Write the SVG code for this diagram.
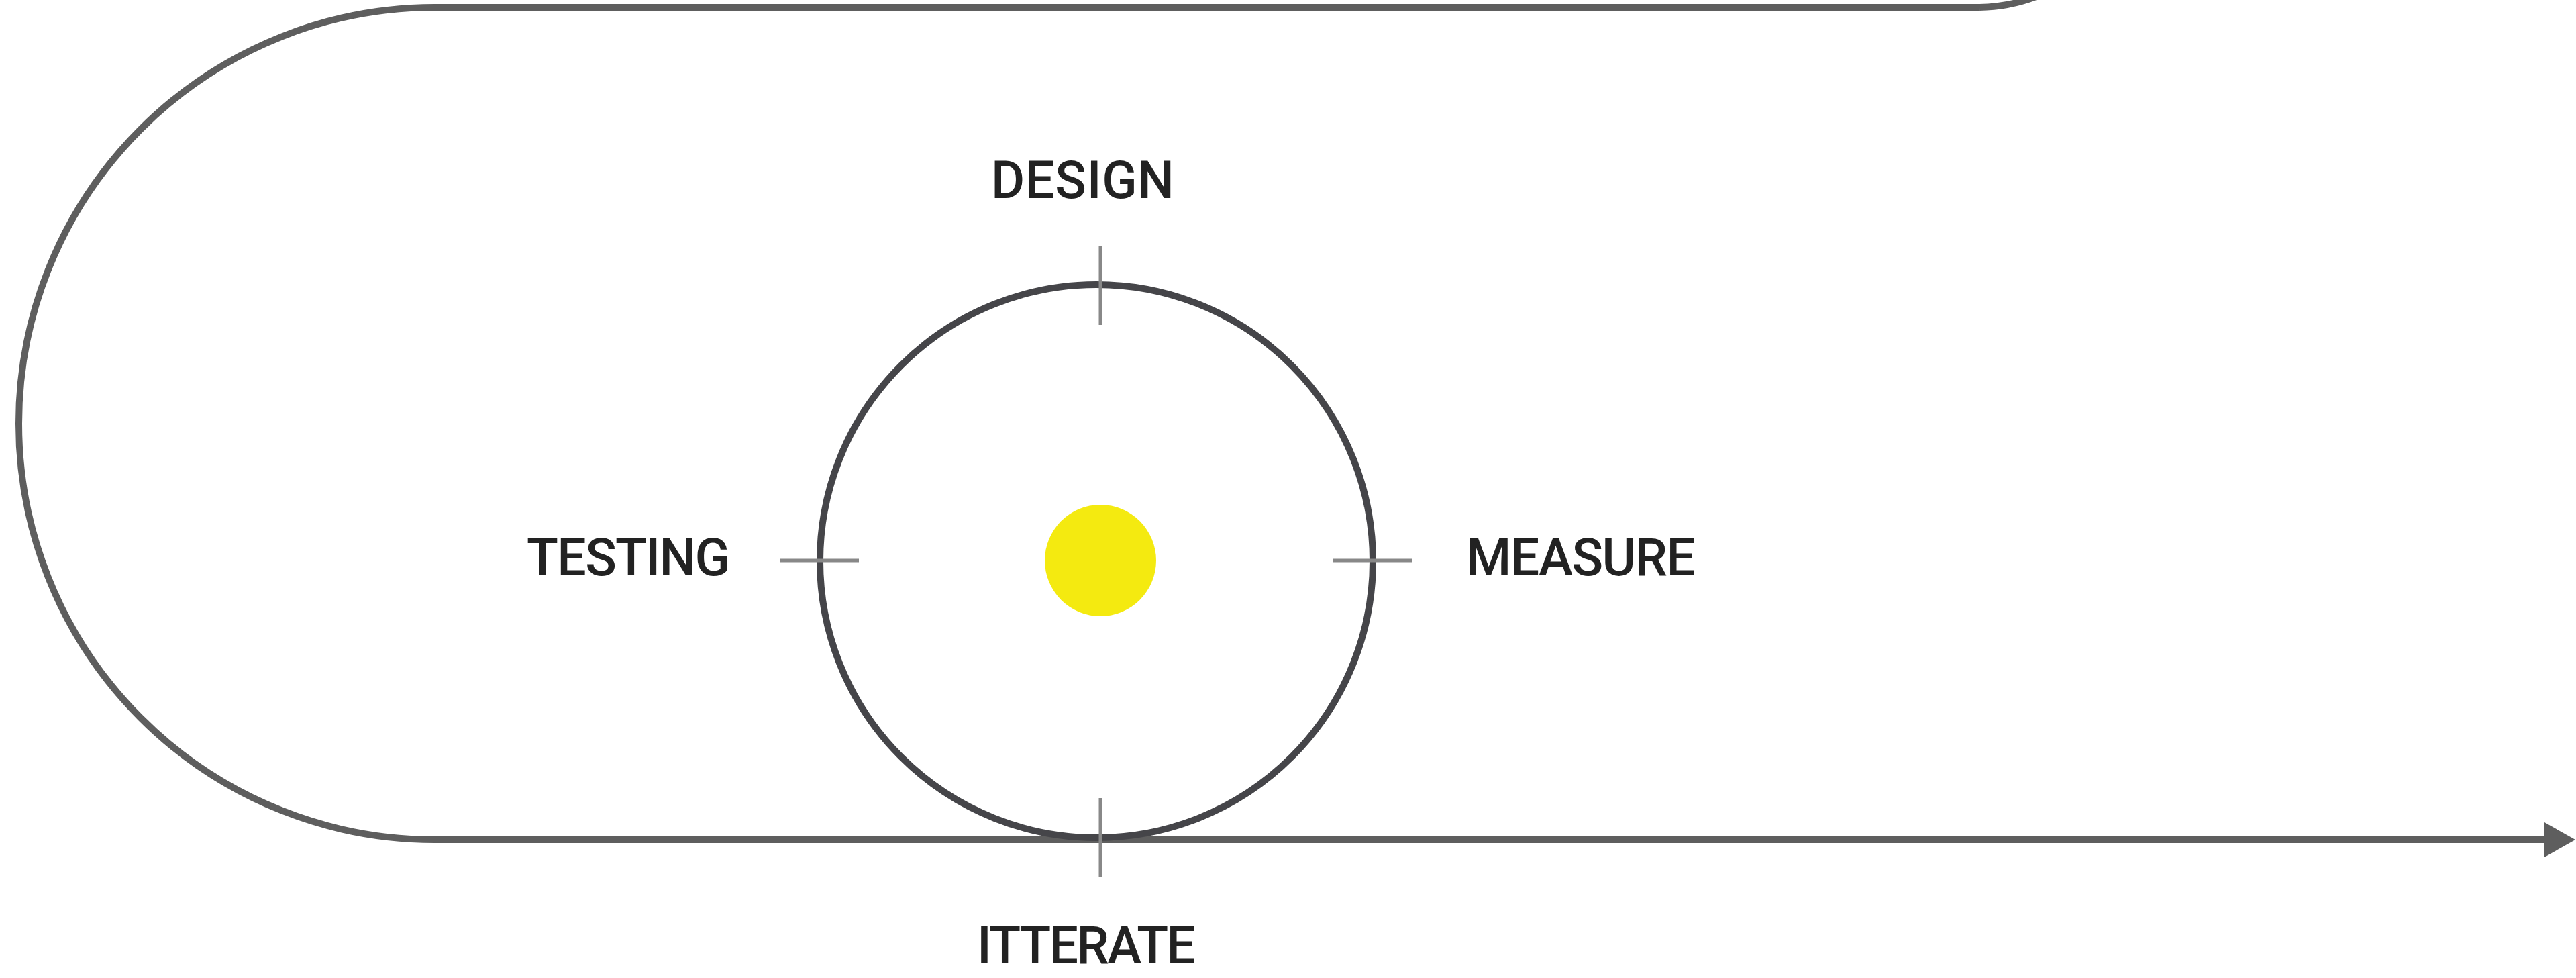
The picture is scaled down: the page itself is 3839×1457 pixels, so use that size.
<svg xmlns="http://www.w3.org/2000/svg" width="3839" height="1457" viewBox="0 0 3839 1457">
  <style>
    .track { fill: none; stroke: #5e5e5e; stroke-width: 10; }
    .ring { fill: none; stroke: #454549; stroke-width: 10; }
    .tick { stroke: #888888; stroke-width: 5; }
    .label { font-family: Roboto, "Liberation Sans", sans-serif; font-weight: 500; font-size: 77px; fill: #222222; }
  </style>
  <defs>
    <marker id="arrow" viewBox="0 0 46 52" refX="0" refY="26" markerWidth="46" markerHeight="52" markerUnits="userSpaceOnUse" orient="auto">
      <path d="M0 0 L46 26 L0 52 Z" fill="#5e5e5e"/>
    </marker>
  </defs>
  <rect width="3839" height="1457" fill="#ffffff"/>

  <g id="connectors">
    <path class="track" d="M 2950 11 A 250 250 0 0 0 3110 -50"/>
    <line class="track" x1="648" y1="11" x2="2950" y2="11"/>
    <path class="track" d="M 648 11 A 620 620 0 0 0 648 1251"/>
    <line class="track" x1="648" y1="1251" x2="3792" y2="1251" marker-end="url(#arrow)"/>
  </g>

  <g id="cycle">
    <circle class="ring" cx="1634" cy="836" r="412"/>
  </g>

  <g id="core">
    <circle cx="1640" cy="835" r="83" fill="#f4ea10"/>
  </g>

  <g id="design">
    <line class="tick" x1="1640" y1="367" x2="1640" y2="484"/>
    <text class="label" x="1477" y="295" textLength="273" lengthAdjust="spacing">DESIGN</text>
  </g>

  <g id="measure">
    <line class="tick" x1="1986" y1="835" x2="2104" y2="835"/>
    <text class="label" x="2185" y="857" textLength="342" lengthAdjust="spacing">MEASURE</text>
  </g>

  <g id="itterate">
    <line class="tick" x1="1640" y1="1189" x2="1640" y2="1307"/>
    <text class="label" x="1456" y="1435" textLength="326" lengthAdjust="spacing">ITTERATE</text>
  </g>

  <g id="testing">
    <line class="tick" x1="1163" y1="835" x2="1280" y2="835"/>
    <text class="label" x="785" y="857" textLength="303" lengthAdjust="spacing">TESTING</text>
  </g>
</svg>
